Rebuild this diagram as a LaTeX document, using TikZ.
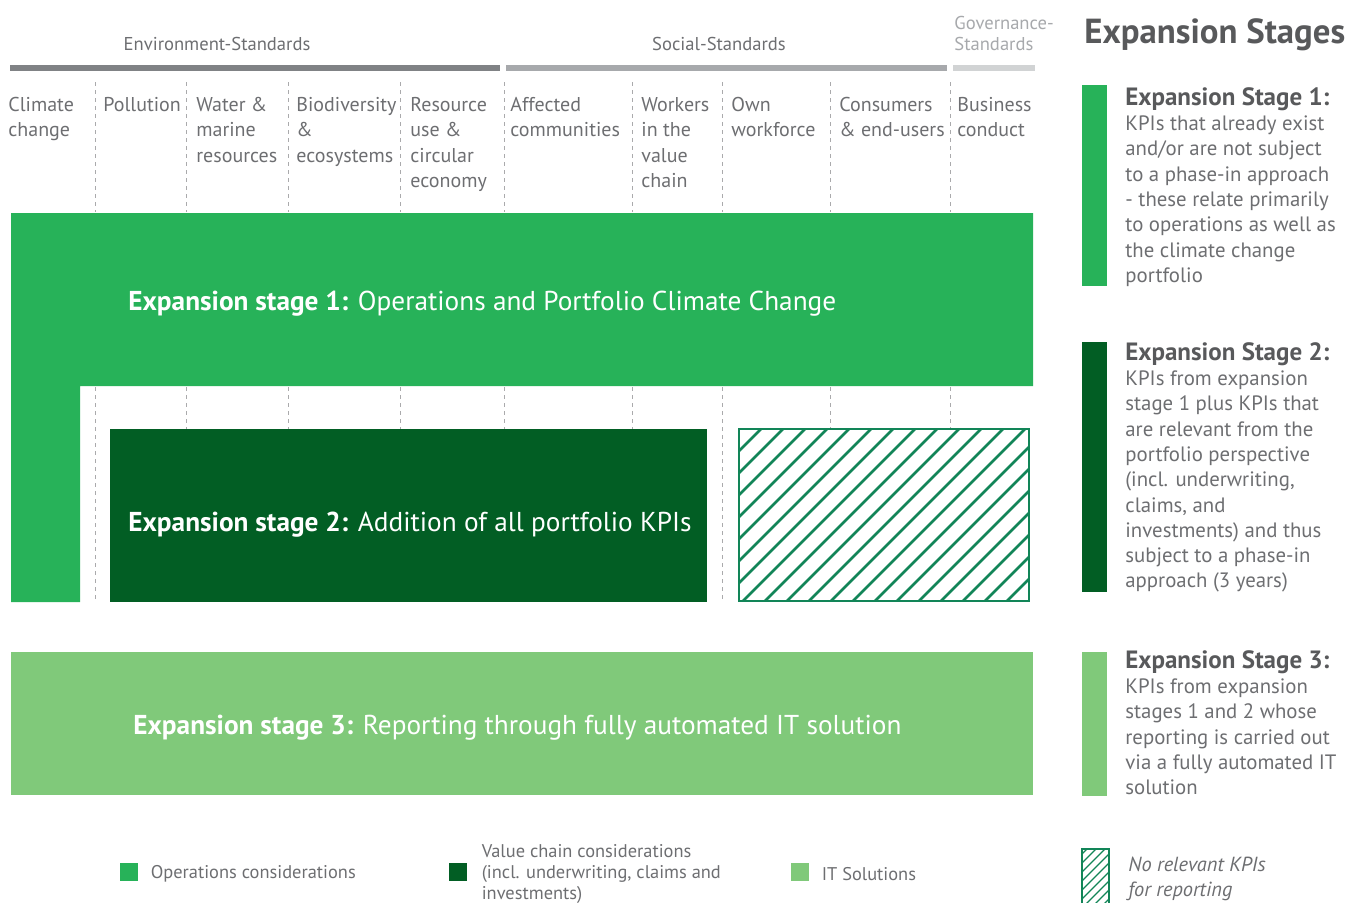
\documentclass[tikz,border=0pt]{standalone}
\usepackage{fontspec}
\setmainfont{PT Sans}
\usetikzlibrary{positioning}
\definecolor{opsgreen}{RGB}{39,178,89}
\definecolor{valgreen}{RGB}{2,94,36}
\definecolor{itgreen}{RGB}{128,201,122}
\definecolor{hatchgreen}{RGB}{18,133,88}
\definecolor{textgray}{RGB}{109,110,113}
\definecolor{titlegray}{RGB}{88,89,91}
\definecolor{envgray}{RGB}{128,130,133}
\definecolor{socgray}{RGB}{167,169,172}
\definecolor{govgray}{RGB}{209,211,212}
\definecolor{dashgray}{RGB}{170,170,172}
\newcommand{\stagehead}[1]{{\color{titlegray}\fontsize{12.5}{12.65}\selectfont\bfseries #1}}
\begin{document}
\begin{tikzpicture}[x=0.5pt,y=-0.5pt]
    \tikzset{every node/.style={inner sep=0pt,text=textgray,font={\fontsize{10}{12.65}\selectfont}}}
    \tikzset{col/.style={anchor=north west,align=left}}
    \tikzset{grid/.style={draw=dashgray,line width=0.5pt,dash pattern=on 2pt off 2pt}}
    \tikzset{stagetext/.style={anchor=west,text=white,font={\fontsize{13.65}{16}\selectfont}}}
    \tikzset{legend/.style={anchor=west,align=left,yshift=-1pt,font={\fontsize{9.2}{10.5}\selectfont}}}
    \tikzset{swatch/.style={minimum size=9pt}}
    \tikzset{desc/.style={col,font={\fontsize{10.4}{12.65}\selectfont}}}
    \useasboundingbox (0,0) rectangle (1347,902);
    % standards header
    \node[font={\fontsize{9.3}{10.5}\selectfont}] (env) at (217,44) {Environment-Standards};
    \node[font={\fontsize{9.3}{10.5}\selectfont}] (soc) at (719,44) {Social-Standards};
    \node[anchor=west,align=left,text=socgray,font={\fontsize{9.3}{10.5}\selectfont}] (gov) at (954,33.5) {Governance-\\Standards};
    \fill[envgray] (10,65) rectangle (500,71);
    \fill[socgray] (506,65) rectangle (947,71);
    \fill[govgray] (953,65) rectangle (1035,71);
    \foreach \x in {95,186,288,400,504,632,722,830,950}{
      \draw[grid] (\x,82)--(\x,212);
      \draw[grid] (\x,387)--(\x,602);
    }
    % topics
    \node[col] (climate) at (8,97) {Climate\\change};
    \node[col] (pollution) at (103,97) {Pollution};
    \node[col] (water) at (196,97) {Water \&\\marine\\resources};
    \node[col] (biodiv) at (296,97) {Biodiversity\\\&\\ecosystems};
    \node[col] (resource) at (410,97) {Resource\\use \&\\circular\\economy};
    \node[col] (affected) at (510,97) {Affected\\communities};
    \node[col] (workers) at (641,97) {Workers\\in the\\value\\chain};
    \node[col] (own) at (731,97) {Own\\workforce};
    \node[col] (consumers) at (839,97) {Consumers\\\& end-users};
    \node[col] (business) at (957,97) {Business\\conduct};
    % stages
    \fill[opsgreen] (11,213)--(1033,213)--(1033,386)--(80,386)--(80,602)--(11,602)--cycle;
    \node[stagetext] (stage1) at (128,304) {\textbf{Expansion stage 1:} Operations and Portfolio Climate Change};
    \fill[valgreen] (110,429) rectangle (707,602);
    \node[stagetext] (stage2) at (128,525) {\textbf{Expansion stage 2:} Addition of all portfolio KPIs};
    \fill[white] (739,429) rectangle (1029,601);
    \begin{scope}
      \clip (739,429) rectangle (1029,601);
      \foreach \i in {0,...,22}
        \draw[hatchgreen,line width=1.3pt] (567+\i*22,601)--++(172,-172);
    \end{scope}
    \draw[hatchgreen,line width=0.6pt] (739,429) rectangle (1029,601);
    \fill[itgreen] (11,652) rectangle (1033,795);
    \node[stagetext] (stage3) at (133,728) {\textbf{Expansion stage 3:} Reporting through fully automated IT solution};
    % key on the right
    \node[anchor=west,text=titlegray,font={\fontsize{17.4}{20}\selectfont\bfseries}] (stages) at (1084,35) {Expansion Stages};
    \fill[opsgreen] (1082,85) rectangle (1107,286);
    \node[desc] (desc1) at (1125,87) {\stagehead{Expansion Stage 1:}\\KPIs that already exist\\and/or are not subject\\to a phase-in approach\\- these relate primarily\\to operations as well as\\the climate change\\portfolio};
    \fill[valgreen] (1082,342) rectangle (1107,592);
    \node[desc] (desc2) at (1125,342) {\stagehead{Expansion Stage 2:}\\KPIs from expansion\\stage 1 plus KPIs that\\are relevant from the\\portfolio perspective\\(incl. underwriting,\\claims, and\\investments) and thus\\subject to a phase-in\\approach (3 years)};
    \fill[itgreen] (1082,652) rectangle (1107,796);
    \node[desc] (desc3) at (1125,650) {\stagehead{Expansion Stage 3:}\\KPIs from expansion\\stages 1 and 2 whose\\reporting is carried out\\via a fully automated IT\\solution};
    % legend
    \node[swatch,fill=opsgreen] (ops) at (129,872) {};
    \node[legend,right=6pt of ops] (opslbl) {Operations considerations};
    \node[swatch,fill=valgreen] (val) at (458,872) {};
    \node[legend,right=7pt of val] (vallbl) {Value chain considerations\\(incl. underwriting, claims and\\investments)};
    \node[swatch,fill=itgreen] (it) at (800,872) {};
    \node[legend,right=6pt of it] (itlbl) {IT Solutions};
    \begin{scope}
      \clip (1082,849) rectangle (1109,905);
      \foreach \i in {0,...,10}
        \draw[hatchgreen,line width=0.6pt] (1022+\i*9,905)--++(60,-60);
    \end{scope}
    \draw[hatchgreen,line width=0.6pt] (1082,849) rectangle (1109,905);
    \node[legend,font={\fontsize{10.2}{12.5}\selectfont\itshape}] (nokpi) at (1128,877) {No relevant KPIs\\for reporting};
\end{tikzpicture}
\end{document}
